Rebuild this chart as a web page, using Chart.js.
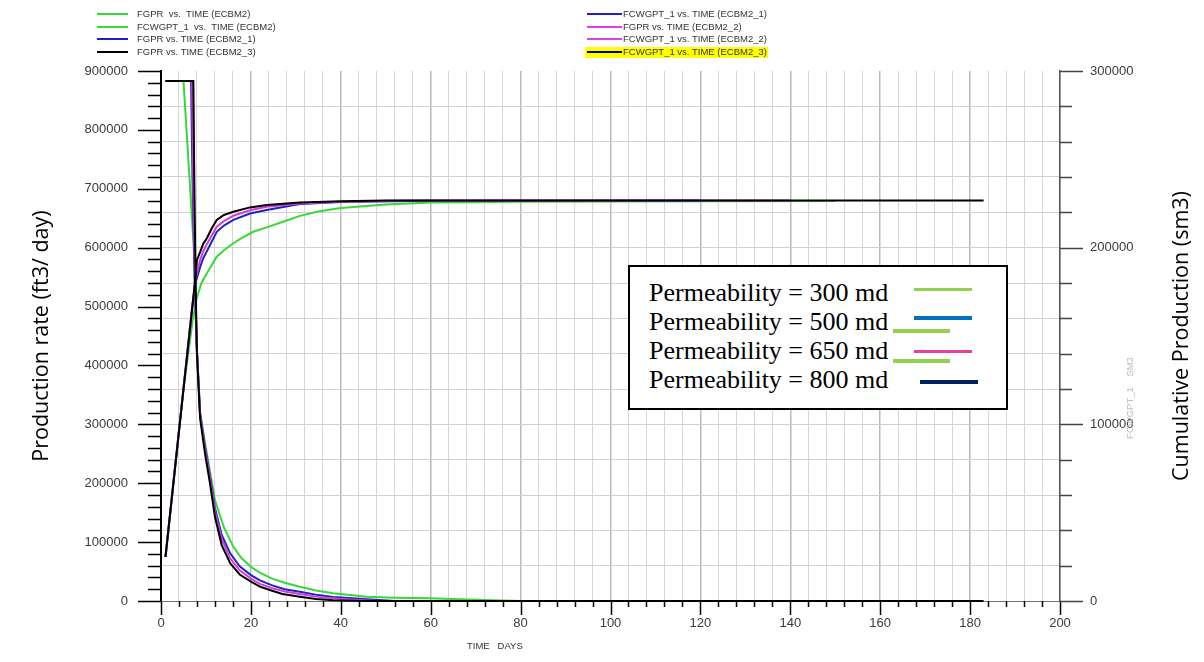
<!DOCTYPE html>
<html>
<head>
<meta charset="utf-8">
<script src="https://cdn.jsdelivr.net/npm/chart.js@4.4.1/dist/chart.umd.min.js"></script>
<style>
    body { margin: 0; background: #fff; }
    #wrap { position: relative; width: 1204px; height: 662px; overflow: hidden; }
    #wrap canvas { position: absolute; left: 0; top: 0; }
    .abs { position: absolute; white-space: pre; }
    .key { font: 9.5px "Liberation Sans", Arial, sans-serif; color: #333; line-height: 12px; }
    .swatch { position: absolute; height: 2px; }
    .perm { font: 26px "Liberation Serif", "Times New Roman", serif; color: #000; line-height: 29px; }
    .bar { position: absolute; height: 3.5px; }
    .title { font: 21.5px "Open Sans", sans-serif; color: #000; transform: rotate(-90deg); transform-origin: center center; }
</style>
</head>
<body>
<div id="wrap">
    <canvas id="chart"></canvas>

    <!-- simulator key at the top -->
    <div class="swatch" style="left:97px;top:13px;width:31px;background:#33dd33"></div>
    <div class="abs key" style="left:137px;top:8px">FGPR  vs.  TIME (ECBM2)</div>
    <div class="swatch" style="left:97px;top:26px;width:31px;background:#33dd33"></div>
    <div class="abs key" style="left:137px;top:21px">FCWGPT_1  vs.  TIME (ECBM2)</div>
    <div class="swatch" style="left:97px;top:38px;width:31px;background:#1f1fc8"></div>
    <div class="abs key" style="left:137px;top:33px">FGPR vs. TIME (ECBM2_1)</div>
    <div class="swatch" style="left:97px;top:51px;width:31px;background:#000"></div>
    <div class="abs key" style="left:137px;top:46px">FGPR vs. TIME (ECBM2_3)</div>

    <div class="abs" style="left:585px;top:47px;width:183px;height:11px;background:#ffff00"></div>
    <div class="swatch" style="left:587px;top:13px;width:35px;background:#1f1fc8"></div>
    <div class="abs key" style="left:623px;top:8px">FCWGPT_1 vs. TIME (ECBM2_1)</div>
    <div class="swatch" style="left:587px;top:26px;width:35px;background:#e040e0"></div>
    <div class="abs key" style="left:623px;top:21px">FGPR vs. TIME (ECBM2_2)</div>
    <div class="swatch" style="left:587px;top:38px;width:35px;background:#e040e0"></div>
    <div class="abs key" style="left:623px;top:33px">FCWGPT_1 vs. TIME (ECBM2_2)</div>
    <div class="swatch" style="left:587px;top:51px;width:35px;background:#000"></div>
    <div class="abs key" style="left:623px;top:46px">FCWGPT_1 vs. TIME (ECBM2_3)</div>

    <!-- permeability box -->
    <div class="abs" style="left:628px;top:265px;width:380px;height:145px;box-sizing:border-box;border:2px solid #000;background:#fff"></div>
    <div class="abs perm" style="left:649px;top:278px">Permeability = 300 md</div>
    <div class="abs perm" style="left:649px;top:307px">Permeability = 500 md</div>
    <div class="abs perm" style="left:649px;top:336px">Permeability = 650 md</div>
    <div class="abs perm" style="left:649px;top:365px">Permeability = 800 md</div>
    <div class="bar" style="left:914px;top:287.5px;width:58px;background:#92d050"></div>
    <div class="bar" style="left:914px;top:316px;width:58px;background:#0070c0"></div>
    <div class="bar" style="left:893px;top:329px;width:57px;background:#92d050"></div>
    <div class="bar" style="left:914px;top:349.5px;width:58px;background:#e8409a"></div>
    <div class="bar" style="left:893px;top:359px;width:57px;background:#92d050"></div>
    <div class="bar" style="left:920px;top:380px;width:58px;background:#002060"></div>

    <!-- axis titles -->
    <div class="abs title" style="left:-110px;top:321px;width:300px;height:30px;text-align:center">Production rate (ft3/ day)</div>
    <div class="abs title" style="left:1030px;top:321px;width:300px;height:30px;text-align:center">Cumulative Production (sm3)</div>
    <div class="abs key" style="left:1070px;top:392px;width:120px;text-align:center;color:#bbb;transform:rotate(-90deg)">FCWGPT_1    SM3</div>
    <div class="abs key" style="left:467px;top:640px">TIME   DAYS</div>
</div>

<script>
// gas rate, ft3/day (left axis)
const rateTime300 = [1, 5.0, 6.0, 7.3, 7.9, 8.7, 9.8, 10.9, 12.0, 14.0, 16.1, 18.0, 20.0, 22.0, 24.6, 27.5, 30.9, 34.5, 38.3, 42.0, 45.8, 52.0, 59.8, 70, 80, 150];
const rate300 = [883000, 883000, 760000, 600000, 437000, 320000, 268000, 220000, 171500, 125000, 92000, 72000, 58000, 48000, 38500, 31000, 24300, 18000, 13000, 10000, 7300, 5500, 4500, 2000, 0, 0];

const rateTime500 = [1, 6.7, 7.0, 7.5, 8.0, 8.7, 9.8, 10.9, 12.0, 13.5, 15.4, 17.5, 20.0, 22.0, 24.6, 27.5, 30.9, 35.0, 38.3, 45.8, 52, 120];
const rate500 = [883000, 883000, 720000, 545000, 425000, 318000, 262000, 212000, 158000, 112000, 81000, 59000, 44000, 35000, 27000, 20000, 15800, 10000, 7000, 3000, 0, 0];

const rateTime650 = [1, 6.9, 7.2, 7.6, 8.0, 8.7, 9.8, 10.9, 12.0, 13.5, 15.4, 17.5, 20.0, 22.0, 24.6, 27.5, 30.9, 35.0, 40.0, 48.0, 140];
const rate650 = [883000, 883000, 700000, 540000, 425000, 315000, 258000, 208000, 152000, 105000, 72000, 52000, 38000, 29000, 22000, 16000, 12000, 7000, 3500, 0, 0];

const rateTime800 = [1, 7.2, 7.4, 7.7, 8.0, 8.7, 9.8, 10.9, 12.0, 13.5, 15.4, 17.5, 20.0, 22.0, 24.2, 27.0, 30.9, 34.5, 38.3, 45.0, 183];
const rate800 = [883000, 883000, 720000, 540000, 420000, 310000, 250000, 200000, 143000, 95000, 64000, 45000, 33000, 24500, 18700, 12000, 7300, 3500, 1200, 0, 0];

// cumulative production, sm3 (right axis)
const cumTime300 = [1, 5.0, 7.0, 7.8, 8.3, 9.0, 10.2, 12.4, 14.0, 16.1, 18.0, 20.5, 23.5, 27, 30.9, 35, 40, 50, 60, 80, 100, 150];
const cum300 = [25000, 120000, 158000, 170000, 174200, 180000, 185500, 194900, 198500, 202500, 205500, 209000, 211500, 214500, 218000, 220500, 222500, 224500, 225600, 226000, 226200, 226400];

const cumTime500 = [1, 6.8, 7.6, 8.0, 8.7, 9.4, 10.2, 12.4, 14.0, 16.1, 19.8, 23.5, 30.9, 40, 60, 120];
const cum500 = [25000, 163000, 179000, 183000, 189000, 194000, 198000, 209000, 212500, 215700, 219300, 221300, 224700, 225800, 226600, 226700];

const cumTime650 = [1, 7.0, 7.6, 8.0, 8.7, 9.4, 10.2, 12.4, 14.0, 16.1, 19.8, 23.5, 30.9, 40, 55, 140];
const cum650 = [25000, 168000, 180000, 186000, 193000, 198000, 202000, 211900, 215000, 218100, 221200, 223200, 225000, 226000, 226700, 226700];

const cumTime800 = [1, 7.2, 7.6, 8.0, 8.7, 9.4, 10.2, 11.3, 12.4, 14.0, 16.1, 19.8, 23.5, 30.9, 40, 50, 183];
const cum800 = [25000, 172000, 182000, 193000, 197500, 202300, 205300, 211000, 215700, 218500, 220300, 222800, 224200, 225500, 226300, 226700, 226700];

const xTickLabels = [0, 20, 40, 60, 80, 100, 120, 140, 160, 180, 200];

const colors = {p300: '#36d936', p500: '#2222c4', p650: '#d43cd4', p800: '#000000'};

function points(times, values) {
    return times.map((t, i) => ({x: t, y: values[i]}));
}

function series(label, times, values, color, axis) {
    return {
        label: label,
        data: points(times, values),
        borderColor: color,
        backgroundColor: color,
        borderWidth: 2,
        pointRadius: 0,
        tension: 0,
        fill: false,
        clip: false,
        yAxisID: axis,
    };
}

// hand-drawn tick marks: long at labelled values, short in between
const axisTicks = {
    id: 'axisTicks',
    afterDraw(chart) {
        const {ctx, chartArea, scales} = chart;
        ctx.save();
        ctx.lineWidth = 1.5;

        ctx.strokeStyle = '#000';
        scales.x.ticks.forEach(t => {
            let px = Math.round(scales.x.getPixelForValue(t.value)) + 0.5;
            let len = t.value % 20 === 0 ? 14 : 6;
            ctx.beginPath();
            ctx.moveTo(px, chartArea.bottom);
            ctx.lineTo(px, chartArea.bottom + len);
            ctx.stroke();
        });

        scales.y.ticks.forEach(t => {
            let py = Math.round(scales.y.getPixelForValue(t.value)) + 0.5;
            let len = t.value % 100000 === 0 ? 23 : 13;
            ctx.beginPath();
            ctx.moveTo(chartArea.left, py);
            ctx.lineTo(chartArea.left - len, py);
            ctx.stroke();
        });

        ctx.strokeStyle = '#444';
        scales.y2.ticks.forEach(t => {
            let py = Math.round(scales.y2.getPixelForValue(t.value)) + 0.5;
            let len = t.value % 100000 === 0 ? 23 : 12;
            ctx.beginPath();
            ctx.moveTo(chartArea.right, py);
            ctx.lineTo(chartArea.right + len, py);
            ctx.stroke();
        });
        ctx.restore();
    }
};

const tickFont = {family: '"Liberation Sans", Arial, sans-serif', size: 13};

new Chart(document.getElementById('chart'), {
    type: 'line',
    data: {
        datasets: [
            series('FGPR vs. TIME (ECBM2_3)', rateTime800, rate800, colors.p800, 'y'),
            series('FCWGPT_1 vs. TIME (ECBM2_3)', cumTime800, cum800, colors.p800, 'y2'),
            series('FGPR vs. TIME (ECBM2_2)', rateTime650, rate650, colors.p650, 'y'),
            series('FCWGPT_1 vs. TIME (ECBM2_2)', cumTime650, cum650, colors.p650, 'y2'),
            series('FGPR vs. TIME (ECBM2_1)', rateTime500, rate500, colors.p500, 'y'),
            series('FCWGPT_1 vs. TIME (ECBM2_1)', cumTime500, cum500, colors.p500, 'y2'),
            series('FGPR vs. TIME (ECBM2)', rateTime300, rate300, colors.p300, 'y'),
            series('FCWGPT_1 vs. TIME (ECBM2)', cumTime300, cum300, colors.p300, 'y2'),
        ]
    },
    options: {
        responsive: true,
        maintainAspectRatio: false,
        animation: false,
        layout: {padding: {top: 71, left: 0, right: 0, bottom: 0}},
        plugins: {
            legend: {display: false},
            tooltip: {enabled: false},
        },
        scales: {
            x: {
                type: 'linear',
                min: 0,
                max: 200,
                afterFit: scale => { scale.height = 61; },
                border: {color: '#777', width: 1},
                grid: {
                    drawTicks: false,
                    color: c => c.tick && c.tick.value % 20 === 0 ? '#b9b9b9' : '#d6d6d6',
                    lineWidth: c => c.tick && c.tick.value % 20 === 0 ? 1.5 : 1,
                },
                ticks: {
                    stepSize: 4,
                    autoSkip: false,
                    maxRotation: 0,
                    padding: 15,
                    color: '#3a3a3a',
                    font: tickFont,
                    callback: v => xTickLabels.includes(v) ? String(v) : '',
                },
            },
            y: {
                position: 'left',
                min: 0,
                max: 900000,
                afterFit: scale => { scale.width = 161; },
                border: {color: '#000', width: 2},
                grid: {drawOnChartArea: false, drawTicks: false},
                ticks: {
                    stepSize: 20000,
                    autoSkip: false,
                    padding: 33,
                    color: '#3a3a3a',
                    font: tickFont,
                    callback: v => v % 100000 === 0 ? String(v) : '',
                },
            },
            y2: {
                position: 'right',
                min: 0,
                max: 300000,
                afterFit: scale => { scale.width = 144; },
                border: {color: '#555', width: 1.5},
                grid: {
                    drawTicks: false,
                    color: c => c.tick && c.tick.value === 300000 ? 'rgba(0,0,0,0)' : '#d0d0d0',
                },
                ticks: {
                    stepSize: 20000,
                    autoSkip: false,
                    padding: 30,
                    color: '#3a3a3a',
                    font: tickFont,
                    callback: v => v % 100000 === 0 ? String(v) : '',
                },
            },
        }
    },
    plugins: [axisTicks]
});
</script>
</body>
</html>
